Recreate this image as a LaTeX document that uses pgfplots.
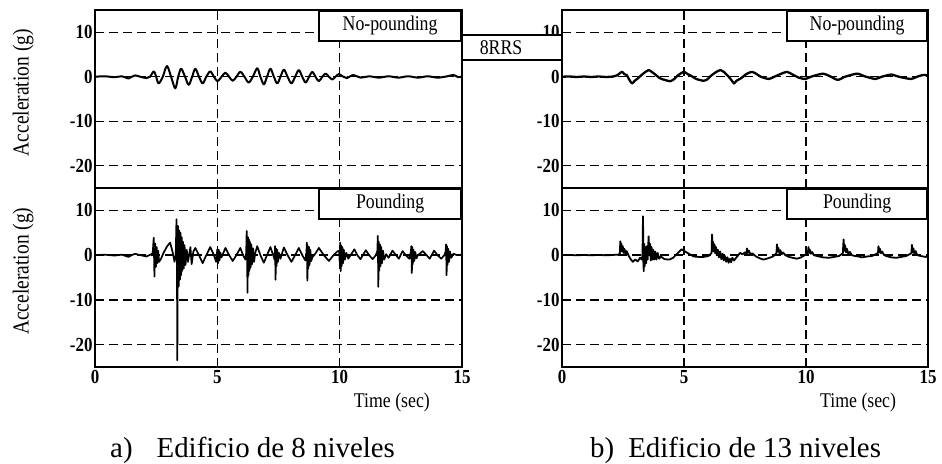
\documentclass[border=0pt]{standalone}
\usepackage{fontspec}
\setmainfont{Liberation Serif}
\newfontfamily\condfont[FakeStretch=0.85]{Liberation Serif}
\usepackage{pgfplots}
\pgfplotsset{compat=1.18}
\tikzset{
  tag/.style={draw=black, fill=white, line width=1.8bp, inner sep=0pt,
    font=\condfont\fontsize{21}{21}\selectfont, anchor=north east, minimum height=30bp},
}
\pgfplotsset{
  panel/.style={
    scale only axis, anchor=south west,
    xmin=0, xmax=15, ymin=-25, ymax=15,
    xtick={0,5,10,15}, ytick={-20,-10,0,10},
    yticklabels={{-20},{-10},{0},{10}},
    grid=major,
    major grid style={black, line width=1.4bp, dash pattern=on 9bp off 5bp},
    axis line style={line width=2.8bp},
    tick style={draw=none},
    ticklabel style={font=\condfont\fontsize{20}{20}\selectfont\bfseries},
    yticklabel style={xshift=1bp},
    label style={font=\condfont\fontsize{21}{21}\selectfont},
    ylabel style={at={(axis description cs:-0.196,0.535)}, anchor=center, font=\condfont\fontsize{23}{23}\selectfont},
    xlabel style={at={(axis description cs:0.809,-0.196)}, anchor=center},
  },
  toppanel/.style={panel, height=178bp, xticklabels={}},
  botpanel/.style={panel, height=179bp, xticklabels={0,5,10,15}},
  sig/.style={black, line width=2bp, line join=round},
}
\begin{document}
\begin{tikzpicture}
\useasboundingbox (0,0) rectangle (942bp,464bp);

% ---------- a) 8 niveles, no pounding ----------
\begin{axis}[toppanel, at={(95bp,276bp)}, width=367bp, ylabel={Acceleration (g)}]
\addplot[sig, smooth, tension=0.55] coordinates {
(0,0) (0.4,0.1) (0.8,-0.1) (1.1,0.1) (1.37,-0.4) (1.5,0) (1.64,0.3) (1.85,0) (2.1,-0.3) (2.25,0)
(2.40,1.2) (2.5,0) (2.6,-1.5) (2.77,0) (2.94,2.4) (3.11,0) (3.28,-2.6) (3.40,0) (3.52,1.8) (3.68,0)
(3.83,-1.8) (3.97,0) (4.10,1.8) (4.25,0) (4.40,-1.5) (4.55,0) (4.71,1.2) (4.86,0) (5.01,-1.0) (5.17,0)
(5.33,0.9) (5.48,0) (5.63,-0.9) (5.78,0) (5.94,1.1) (6.11,0) (6.28,-1.3) (6.45,0) (6.63,1.9) (6.76,0)
(6.90,-1.7) (7.03,0) (7.17,1.8) (7.31,0) (7.45,-1.5) (7.58,0) (7.72,1.6) (7.87,0) (8.03,-1.5) (8.18,0)
(8.33,1.5) (8.47,0) (8.61,-1.3) (8.75,0) (8.88,1.1) (9.01,0) (9.15,-1.0) (9.29,0) (9.43,0.7) (9.56,0)
(9.70,-0.6) (9.83,0) (9.97,0.6) (10.15,0) (10.3,-0.3) (10.55,0.4) (10.85,-0.2) (11.2,0.1) (11.6,-0.2)
(12.0,0.1) (12.4,-0.2) (12.8,0.1) (13.2,-0.2) (13.6,0.1) (14.0,-0.2) (14.4,0.1) (14.65,0.4) (14.85,-0.1) (15,0.1)
};
\node[tag, minimum width=142bp] at (rel axis cs:1,1) {No-pounding};
\end{axis}

% ---------- a) 8 niveles, pounding ----------
\begin{axis}[botpanel, at={(95bp,97bp)}, width=367bp, ylabel={Acceleration (g)}, xlabel={Time (sec)}]
\addplot[sig, line width=1.7bp] coordinates {
(0,0) (0.4,0.1) (0.8,-0.1) (1.1,0.1) (1.37,-0.4) (1.5,0) (1.64,0.3) (1.85,0) (2.1,-0.3) (2.3,0.2)
(2.36,0.5) (2.40,3.9) (2.43,-4.8) (2.46,2.6) (2.49,-2.6) (2.52,1.8) (2.55,-1.8) (2.58,1.0) (2.62,-1.5) (2.70,-0.8) (2.80,0.5)
(2.95,2.0) (3.07,2.8) (3.18,0.5) (3.25,-1.5) (3.30,0)
(3.33,8.0) (3.35,-2) (3.365,-23.5) (3.38,-5) (3.395,6.5) (3.42,-7) (3.445,5.5) (3.47,-5.5) (3.495,5) (3.52,-4.5)
(3.545,4) (3.57,-3.5) (3.60,3) (3.63,-3) (3.66,2.2) (3.70,-2.2) (3.75,1.2) (3.80,-1.5) (3.90,1.8) (3.95,-2.0)
(4.02,0.8) (4.10,1.6) (4.25,0) (4.40,-1.8) (4.55,0) (4.71,1.8) (4.86,0) (4.95,-1.5)
(5.00,1.3) (5.03,-1.8) (5.06,1.2) (5.09,-1.2) (5.12,0.6) (5.17,-0.5) (5.33,1.6) (5.48,0) (5.63,-1.3) (5.78,0)
(5.94,1.6) (6.05,0) (6.15,-1.0)
(6.18,0.5) (6.20,5.4) (6.22,-2) (6.235,-8.4) (6.25,4) (6.27,-4.5) (6.29,3.5) (6.31,-3.5) (6.33,3) (6.36,-2.8)
(6.39,2.4) (6.42,-2) (6.46,1.5) (6.50,-1.5) (6.55,0.5) (6.63,2.0) (6.76,0) (6.90,-1.7) (7.03,0) (7.17,1.8) (7.28,0) (7.34,-1.0)
(7.36,2.0) (7.38,-5.5) (7.40,1.5) (7.42,-2.5) (7.45,1.2) (7.48,-1.5) (7.52,0.5) (7.58,-0.8) (7.72,1.7) (7.87,0)
(8.03,-1.5) (8.18,0) (8.33,1.6) (8.47,0) (8.60,-1.2)
(8.64,0.5) (8.66,2.8) (8.68,-5.7) (8.70,2.0) (8.72,-3.0) (8.745,1.8) (8.77,-2.2) (8.80,1.2) (8.84,-1.3) (8.88,-0.5)
(9.0,0.3) (9.15,1.6) (9.35,0) (9.56,-1.3) (9.75,0) (9.90,0.8)
(9.98,1.0) (10.00,-1.5) (10.02,2.8) (10.04,-3.6) (10.06,2.2) (10.08,-2.5) (10.11,1.8) (10.14,-1.8) (10.17,1.2) (10.21,-1.0)
(10.27,0.5) (10.35,-0.8) (10.45,0) (10.6,1.3) (10.72,0) (10.85,-0.9) (10.95,0) (11.07,1.1) (11.2,0) (11.35,-0.9) (11.48,0)
(11.54,1.0) (11.56,4.3) (11.58,-7.1) (11.60,3.0) (11.62,-3.5) (11.645,2.4) (11.67,-2.5) (11.70,1.8) (11.73,-1.8) (11.77,1.0)
(11.82,-1.0) (11.90,0.2) (12.0,-0.6) (12.16,1.0) (12.3,0) (12.42,-0.8) (12.57,0.9) (12.7,0) (12.85,-0.8)
(12.91,0.8) (12.93,2.0) (12.95,-4.0) (12.97,1.8) (12.99,-2.0) (13.02,1.2) (13.05,-1.3) (13.09,0.7) (13.14,-0.7) (13.2,0)
(13.4,0.9) (13.55,0) (13.68,-0.8) (13.86,1.0) (14.0,0) (14.15,-0.8) (14.28,0)
(14.33,0.8) (14.35,2.4) (14.37,-4.5) (14.39,2.0) (14.41,-2.2) (14.44,1.4) (14.47,-1.5) (14.51,0.8) (14.56,-0.6) (14.65,0.3) (14.8,0) (15,0.1)
};
\node[tag, minimum width=142bp] at (rel axis cs:1,1) {Pounding};
\end{axis}

% ---------- b) 13 niveles, no pounding ----------
\begin{axis}[toppanel, at={(562bp,276bp)}, width=366bp]
\addplot[sig, line width=2.3bp, smooth, tension=0.4] coordinates {
(0,0) (0.3,0.05) (0.6,-0.05) (0.9,0.05) (1.2,-0.05) (1.5,0.05) (1.8,-0.05) (2.1,0.05) (2.25,0.3) (2.46,1.1)
(2.55,0.6) (2.65,0.4) (2.75,-0.6) (2.87,-1.5) (2.98,-0.9) (3.1,-0.4) (3.2,0.1) (3.35,0.8) (3.55,1.5) (3.7,1.0)
(3.85,0.4) (4.0,-0.3) (4.2,-0.7) (4.44,-1.0) (4.6,-0.5) (4.75,0.3) (4.99,1.1) (5.15,0.6) (5.3,0.2) (5.5,-0.5)
(5.8,-0.9) (5.95,-0.6) (6.1,0.2) (6.3,1.0) (6.49,1.5) (6.65,1.0) (6.8,0.2) (6.95,-0.8) (7.05,-1.5) (7.15,-0.9)
(7.35,-0.3) (7.55,0.6) (7.78,1.1) (7.95,0.7) (8.15,0.0) (8.47,-0.5) (8.7,0.0) (8.95,0.6) (9.22,1.1) (9.45,0.5)
(9.7,-0.2) (9.97,-0.5) (10.2,0.0) (10.45,0.4) (10.7,0.7) (10.95,0.2) (11.3,-0.7) (11.6,0.0) (12.09,0.7) (12.4,0.1)
(12.84,-0.5) (13.1,0.0) (13.5,0.5) (13.8,0.0) (14.3,-0.5) (14.55,0.0) (14.8,0.4) (15,0.3)
};
\node[tag, minimum width=140bp] at (rel axis cs:1,1) {No-pounding};
\end{axis}

% ---------- b) 13 niveles, pounding ----------
\begin{axis}[botpanel, at={(562bp,97bp)}, width=366bp, xlabel={Time (sec)}]
\addplot[sig, line width=1.8bp] coordinates {
(0,0) (0.3,0.05) (0.6,-0.05) (0.9,0.05) (1.2,-0.05) (1.5,0.05) (1.8,-0.05) (2.1,0.05) (2.3,0.1)
(2.37,0.3) (2.39,3.1) (2.41,1.0) (2.43,2.6) (2.46,0.8) (2.49,2.0) (2.52,0.5) (2.56,1.4) (2.6,0.3) (2.65,0.9)
(2.72,0) (2.8,-0.8) (2.9,-1.5) (3.0,-1.0) (3.1,-1.4) (3.2,-0.6) (3.28,-1.0)
(3.30,0.5) (3.32,8.7) (3.335,-1.5) (3.35,-3.6) (3.37,2.5) (3.39,-2.5) (3.42,1.8) (3.45,-1.8) (3.48,2.0) (3.51,-1.0)
(3.55,4.2) (3.58,0) (3.61,2.5) (3.64,-1.2) (3.67,1.8) (3.70,-1.0) (3.74,1.2) (3.78,-1.0) (3.82,0.8) (3.87,-1.0)
(3.92,0.5) (3.98,-0.8) (4.05,-0.3) (4.2,-0.9) (4.4,-1.0) (4.55,-0.6) (4.7,0.2) (4.9,1.3) (5.05,0.8) (5.2,0.3)
(5.4,-0.3) (5.6,-0.4) (5.8,-0.4) (6.0,-0.2) (6.1,0.3)
(6.13,0.5) (6.15,4.6) (6.17,1.5) (6.19,3.0) (6.22,0.8) (6.25,2.4) (6.28,0.4) (6.31,1.8) (6.35,0) (6.39,1.2)
(6.43,-0.5) (6.48,0.8) (6.53,-0.9) (6.58,0.3) (6.63,-1.2) (6.68,-0.2) (6.73,-1.5) (6.78,-0.5) (6.83,-1.7) (6.88,-0.8)
(6.93,-1.6) (6.98,-0.6) (7.05,-1.2) (7.15,-0.5) (7.3,0.5) (7.4,0.2) (7.5,0.6)
(7.56,0.4) (7.58,1.5) (7.62,0.5) (7.66,1.0) (7.72,0.2) (7.8,0.4) (7.95,-0.3) (8.1,-0.7) (8.26,-1.0) (8.45,-0.7) (8.65,-0.3) (8.77,0.3)
(8.79,0.5) (8.81,2.4) (8.84,0.8) (8.87,1.6) (8.91,0.4) (8.95,1.1) (9.0,0.2) (9.06,0.6) (9.15,0) (9.3,-0.4)
(9.45,-0.6) (9.63,-0.8) (9.8,-0.5) (9.95,0) (10.06,0.4)
(10.08,0.6) (10.1,1.8) (10.13,0.5) (10.16,1.2) (10.2,0.3) (10.25,0.7) (10.32,0) (10.45,-0.2) (10.7,-0.5) (10.93,-0.6)
(11.15,-0.4) (11.35,-0.2) (11.48,0.3)
(11.51,0.5) (11.54,3.5) (11.57,1.0) (11.60,2.2) (11.64,0.6) (11.68,1.4) (11.73,0.3) (11.8,0.7) (11.88,0) (12.0,-0.2)
(12.15,-0.3) (12.3,-0.5) (12.5,-0.3) (12.7,-0.2) (12.9,0.3)
(12.95,0.5) (12.97,2.0) (13.0,0.6) (13.03,1.4) (13.07,0.4) (13.12,0.8) (13.2,0) (13.35,-0.3) (13.5,-0.5) (13.7,-0.6)
(13.9,-0.4) (14.1,-0.2) (14.28,0.3)
(14.32,0.5) (14.34,2.3) (14.37,0.6) (14.40,1.5) (14.44,0.4) (14.49,0.9) (14.56,0) (14.7,-0.2) (14.9,-0.4) (15,-0.3)
};
\node[tag, minimum width=140bp] at (rel axis cs:1,1) {Pounding};
\end{axis}

% 8RRS connector box
\draw[line width=1.4bp, fill=white] (462bp,404bp) rectangle (562bp,429bp);
\node[font=\condfont\fontsize{21}{21}\selectfont] at (501bp,416.5bp) {8RRS};

% captions
\node[anchor=base west, inner sep=0pt, font=\fontsize{29}{29}\selectfont] at (110bp,7bp) {a)\hspace{24bp}Edificio de 8 niveles};
\node[anchor=base west, inner sep=0pt, font=\fontsize{29}{29}\selectfont] at (590bp,7bp) {b)\hspace{14bp}Edificio de 13 niveles};
\end{tikzpicture}
\end{document}
